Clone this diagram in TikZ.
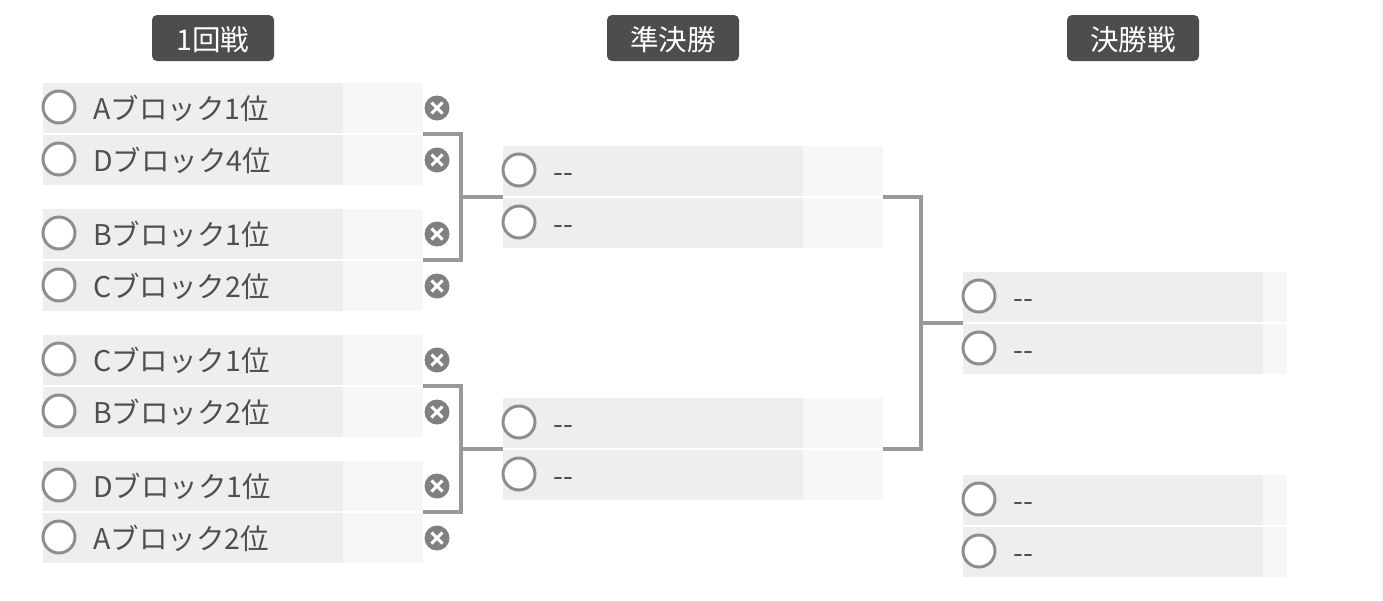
\documentclass[tikz,border=0pt]{standalone}
\usepackage{fontspec}
\setmainfont{Noto Sans CJK JP}
\usetikzlibrary{positioning}

\definecolor{rowgray}{HTML}{EEEEEE}
\definecolor{scoregray}{HTML}{F7F7F7}
\definecolor{edgegray}{HTML}{F3F3F3}
\definecolor{headgray}{HTML}{4D4D4D}
\definecolor{linegray}{HTML}{999999}
\definecolor{radiogray}{HTML}{8E8E8E}
\definecolor{closegray}{HTML}{808080}
\definecolor{labelgray}{HTML}{4F4F4F}

\tikzset{
  pairbox/.style={anchor=north west, inner sep=0pt, outer sep=0pt, minimum height=102pt},
  rowbox/.style={fill=rowgray, inner sep=0pt, outer sep=0pt, minimum width=300pt, minimum height=50pt},
  scorebox/.style={fill=scoregray, inner sep=0pt, outer sep=0pt, minimum height=50pt},
  radio/.style={circle, draw=radiogray, fill=white, line width=3pt, inner sep=0pt, minimum size=32pt},
  entrylabel/.style={anchor=base west, inner sep=0pt, text=labelgray, font=\fontsize{28.5}{28.5}\selectfont},
  headbox/.style={fill=headgray, rounded corners=5pt, text=white, inner sep=0pt, outer sep=0pt, minimum height=46pt,
    text height=27pt, text depth=3pt, font=\fontsize{28.5}{28.5}\selectfont},
  closemark/.style={circle, fill=closegray, inner sep=0pt, outer sep=0pt, minimum size=25pt,
    path picture={\draw[white, line width=3pt] (path picture bounding box.center) ++(-5.5pt,-5.5pt) -- ++(11pt,11pt)
      (path picture bounding box.center) ++(-5.5pt,5.5pt) -- ++(11pt,-11pt);}},
  bracket/.style={draw=linegray, line width=4pt}
}

% one row of a pair
\newcommand{\entryrow}[3]{
  \node[rowbox, anchor=west] (#1) at (#1p) {};
  \node[scorebox, right=0pt of #1, minimum width=#2pt] (#1s) {};
  \node[radio, xshift=16pt, yshift=1pt] (#1r) at (#1.west) {};
  \node[entrylabel, xshift=50pt, yshift=-11.5pt] (#1t) at (#1.west) {#3};
}
% two rows
\newcommand{\matchpair}[6]{
  \node[pairbox, minimum width=300pt+#4pt] (#1) at (#2,#3) {};
  \coordinate[below=25pt of #1.north west] (#1ap);
  \coordinate[above=25pt of #1.south west] (#1bp);
  \entryrow{#1a}{#4}{#5}
  \entryrow{#1b}{#4}{#6}
}

\begin{document}
\begin{tikzpicture}[x=1pt, y=-1pt]
  \useasboundingbox (0,0) rectangle (1383,600);
  \draw[edgegray, line width=2pt] (1382,0) coordinate (edgetop) -- (1382,600) coordinate (edgebot);

  \node[headbox, minimum width=122pt] (head1) at (213,38) {1回戦};
  \node[headbox, minimum width=132pt] (head2) at (673,38) {準決勝};
  \node[headbox, minimum width=132pt] (head3) at (1133,38) {決勝戦};

  \matchpair{q1}{43}{83}{80}{Aブロック1位}{Dブロック4位}
  \matchpair{q2}{43}{209}{80}{Bブロック1位}{Cブロック2位}
  \matchpair{q3}{43}{335}{80}{Cブロック1位}{Bブロック2位}
  \matchpair{q4}{43}{461}{80}{Dブロック1位}{Aブロック2位}

  \matchpair{s1}{503}{146}{80}{{-}{-}}{{-}{-}}
  \matchpair{s2}{503}{398}{80}{{-}{-}}{{-}{-}}

  \matchpair{f1}{963}{272}{24}{{-}{-}}{{-}{-}}
  \matchpair{f2}{963}{475}{24}{{-}{-}}{{-}{-}}

  \foreach \n in {q1a,q1b,q2a,q2b,q3a,q3b,q4a,q4b}
    \node[closemark, right=1.5pt of \n s] (\n x) {};

  \coordinate[left=42pt of s1.west] (j1);
  \coordinate[left=42pt of s2.west] (j2);
  \coordinate[left=42pt of f1.west] (j3);

  \draw[bracket] (q1.east) -| (j1) |- (q2.east);
  \draw[bracket] (j1) -- (s1.west);
  \draw[bracket] (q3.east) -| (j2) |- (q4.east);
  \draw[bracket] (j2) -- (s2.west);
  \draw[bracket] (s1.east) -| (j3) |- (s2.east);
  \draw[bracket] (j3) -- (f1.west);
\end{tikzpicture}
\end{document}
